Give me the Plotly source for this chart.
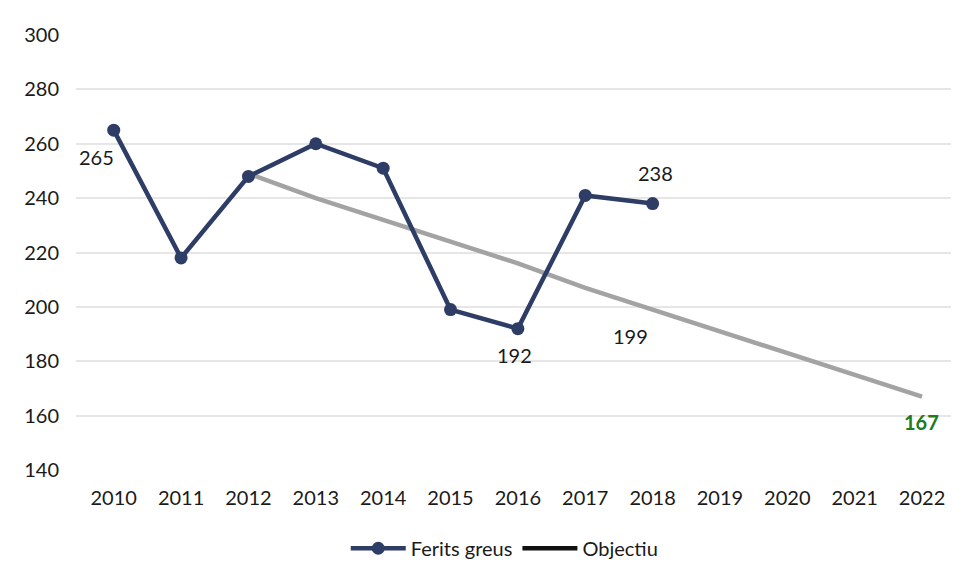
import plotly.graph_objects as go

years = ["2010", "2011", "2012", "2013", "2014", "2015", "2016",
         "2017", "2018", "2019", "2020", "2021", "2022"]
ferits_years = ["2010", "2011", "2012", "2013", "2014", "2015", "2016", "2017", "2018"]
ferits = [265, 218, 248, 260, 251, 199, 192, 241, 238]
obj_years = ["2012", "2013", "2014", "2015", "2016", "2017", "2018",
             "2019", "2020", "2021", "2022"]
objectiu = [249, 240, 232, 224, 216, 207, 199, 191, 183, 175, 167]
y_ticks = [140, 160, 180, 200, 220, 240, 260, 280, 300]

navy = "#2e3d66"
grey = "#a3a3a3"
font = "Lato"
fs = 20

fig = go.Figure()
fig.add_trace(go.Scatter(
    x=obj_years, y=objectiu, mode="lines", name="Objectiu",
    line=dict(color=grey, width=4.5), showlegend=False))
fig.add_trace(go.Scatter(
    x=ferits_years, y=ferits, mode="lines+markers", name="Ferits greus",
    line=dict(color=navy, width=4.5), marker=dict(color=navy, size=13)))
fig.add_trace(go.Scatter(
    x=[None], y=[None], mode="lines", name="Objectiu",
    line=dict(color="#111111", width=4.5)))

lab_font = dict(family=font, size=fs, color="#1a1a1a")


def idx(y):
    return years.index(y)


# data labels
fig.add_annotation(x=idx(ferits_years[0]), y=ferits[0], text=str(ferits[0]), showarrow=False,
                   xshift=-17, yshift=-27, font=lab_font)
fig.add_annotation(x=idx(ferits_years[6]), y=ferits[6], text=str(ferits[6]), showarrow=False,
                   xshift=-3, yshift=-26, font=lab_font)
fig.add_annotation(x=idx(ferits_years[8]), y=ferits[8], text=str(ferits[8]), showarrow=False,
                   xshift=3, yshift=31, font=lab_font)
fig.add_annotation(x=idx(obj_years[6]), y=objectiu[6], text=str(objectiu[6]), showarrow=False,
                   yshift=-26, xshift=-22, font=lab_font)
fig.add_annotation(x=idx(obj_years[-1]), y=objectiu[-1], text="<b>%d</b>" % objectiu[-1],
                   showarrow=False, yshift=-25, xshift=-1,
                   font=dict(family=font, size=fs, color="#1e7b1e"))

fig.update_layout(
    width=973, height=580,
    margin=dict(l=68, r=30, t=27, b=118),
    paper_bgcolor="white", plot_bgcolor="white",
    font=dict(family=font, size=fs, color="#1a1a1a"),
    showlegend=True,
    legend=dict(orientation="h", x=0.49, xanchor="center", y=-0.135, yanchor="top",
                font=dict(family=font, size=fs, color="#1a1a1a"),
                itemwidth=55, traceorder="normal"),
    xaxis=dict(type="category", categoryorder="array", categoryarray=years,
               range=[-0.56, 12.43], showgrid=False, zeroline=False, showline=False,
               ticks="", ticklabelstandoff=14, tickfont=dict(size=fs)),
    yaxis=dict(range=[140, 300], tickvals=y_ticks, showgrid=True,
               gridcolor="#e6e6e6", gridwidth=2, zeroline=False, showline=False,
               ticks="", ticklabelstandoff=16, tickfont=dict(size=fs)),
)

fig.write_html("out.html")
